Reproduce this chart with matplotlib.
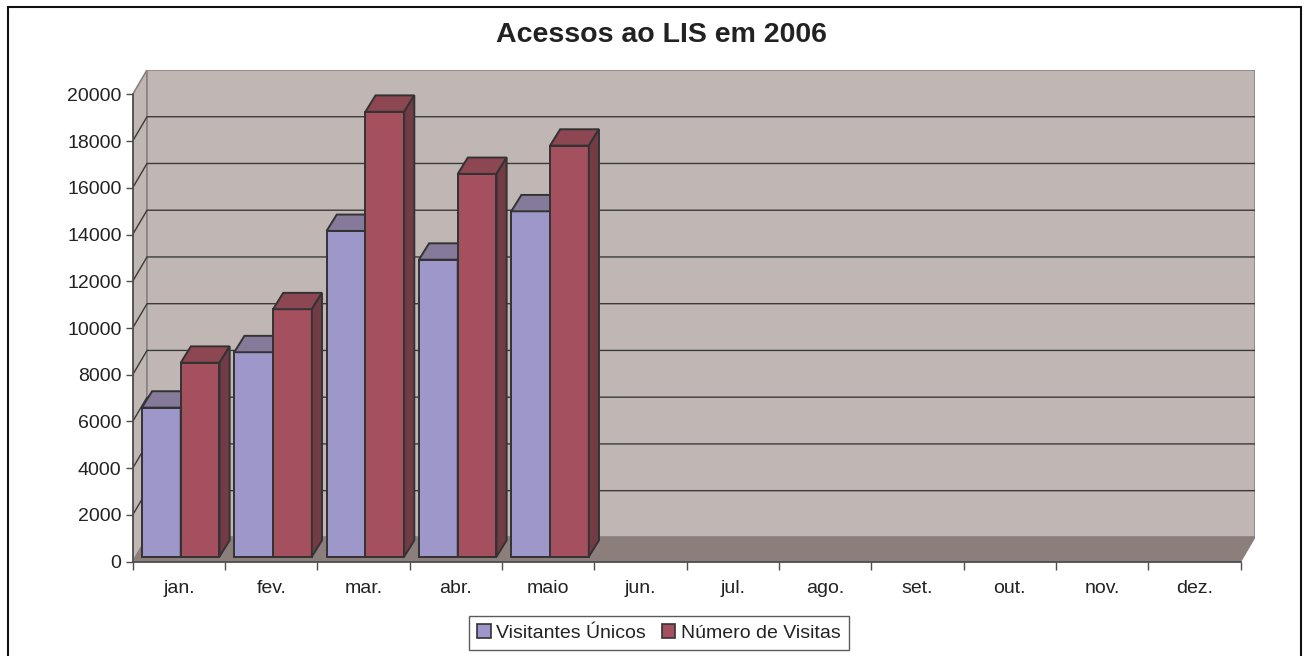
import matplotlib
matplotlib.use("Agg")
import matplotlib.pyplot as plt
from matplotlib.patches import Patch, Rectangle
import numpy as np

plt.rcParams['font.family'] = ['Liberation Sans', 'DejaVu Sans']

MONTHS = ["jan.", "fev.", "mar.", "abr.", "maio", "jun.", "jul.", "ago.",
          "set.", "out.", "nov.", "dez."]
SERIES = ["Visitantes Únicos", "Número de Visitas"]
visitantes = [6380, 8750, 13940, 12710, 14780]
visitas = [8300, 10590, 19040, 16380, 17590]
YTICKS = list(range(0, 20001, 2000))

# 3d look (oblique projection, in data units)
DX, DY = 0.155, 1040        # wall depth
BX, BY = 0.02, 214          # bar front plane shift
TX, TY = 0.11, 700          # bar depth
BW = 0.42
YMAX = 20000

WALL = "#c0b7b4"
FLOOR = "#8c7f7b"
EDGE_WALL = "#8a8282"
GRID = "#3a3a3a"
BLUE = ("#9d98c9", "#857a9a", "#7a7096")
RED = ("#a5505e", "#8c4752", "#723c46")
BAR_EDGE = "#333333"

fig = plt.figure(figsize=(13.09, 6.56), dpi=100)
ax = fig.add_axes([132.7 / 1309, (656 - 561.7) / 656,
                   (1255 - 132.7) / 1309, (561.7 - 70) / 656])
n = len(MONTHS)
ax.set_xlim(0, n + DX)
ax.set_ylim(0, YMAX + DY)

# walls and floor
ax.fill([0, DX, DX, 0], [0, DY, YMAX + DY, YMAX], color=WALL, ec=EDGE_WALL, lw=1.2, zorder=1)
ax.fill([DX, n + DX, n + DX, DX], [DY, DY, YMAX + DY, YMAX + DY], color=WALL,
        ec=EDGE_WALL, lw=1.2, zorder=1)
for v in YTICKS[1:-1]:
    ax.plot([0, DX, n + DX], [v, v + DY, v + DY], color=GRID, lw=1, zorder=2)
ax.fill([0, n, n + DX, DX], [0, 0, DY, DY], color=FLOOR, ec=FLOOR, lw=0.8, zorder=2)


def bar3d(x0, h, cols, side):
    x1 = x0 + BW
    top = BY + h
    ax.bar(x0, h, BW, bottom=BY, align="edge", color=cols[0], ec=BAR_EDGE, lw=1.4, zorder=4)
    ax.fill([x0, x0 + TX, x1 + TX, x1], [top, top + TY, top + TY, top],
            color=cols[1], ec=BAR_EDGE, lw=1.4, zorder=4)
    if side:
        ax.fill([x1, x1 + TX, x1 + TX, x1], [BY, BY + TY, top + TY, top],
                color=cols[2], ec=BAR_EDGE, lw=1.4, zorder=4)


for i, (a, b) in enumerate(zip(visitantes, visitas)):
    left = i + 0.5 + BX - BW
    bar3d(left, a, BLUE, True)
    bar3d(left + BW, b, RED, True)

for s in ["top", "right"]:
    ax.spines[s].set_visible(False)
ax.spines["left"].set_bounds(0, YMAX)
ax.spines["bottom"].set_bounds(0, n)
ax.spines["left"].set_color("#4d4d4d")
ax.spines["bottom"].set_color("#4d4d4d")
ax.spines["left"].set_linewidth(1.3)
ax.spines["bottom"].set_linewidth(1.3)

ax.set_yticks(YTICKS)
ax.set_yticklabels([str(v) for v in YTICKS])
ax.tick_params(axis="y", length=5, width=1, color="#4d4d4d", labelsize=14,
               labelcolor="#222222", pad=3)
ax.set_xticks(np.arange(n + 1))
ax.set_xticklabels([])
ax.tick_params(axis="x", which="major", length=6, width=1, color="#4d4d4d")
ax.set_xticks(np.arange(n) + 0.5, minor=True)
ax.set_xticklabels(MONTHS, minor=True)
ax.tick_params(axis="x", which="minor", length=0, labelsize=14, labelcolor="#222222", pad=13)

fig.text(661 / 1309, 1 - 35 / 656, "Acessos ao LIS em 2006", ha="center", va="center",
         fontsize=20.5, fontweight="bold", color="#222222")

handles = [Patch(fc=BLUE[0], ec=BAR_EDGE, lw=1.2), Patch(fc=RED[0], ec=BAR_EDGE, lw=1.2)]
leg = fig.legend(handles, SERIES, loc="center", bbox_to_anchor=(659 / 1309, 1 - 633 / 656),
                 fontsize=14, frameon=True, fancybox=False, handlelength=0.7,
                 handleheight=0.7, handletextpad=0.3, columnspacing=0.8, ncol=2,
                 borderpad=0.4, labelcolor="#222222")
leg.get_frame().set_edgecolor("#333333")
leg.get_frame().set_linewidth(1)

fig.patches.append(Rectangle((8 / 1309, -0.05), (1301 - 8) / 1309, 1.05 - 7 / 656,
                             transform=fig.transFigure, fill=False, ec="#111111", lw=1.5))

fig.savefig("out.png", dpi=100)
